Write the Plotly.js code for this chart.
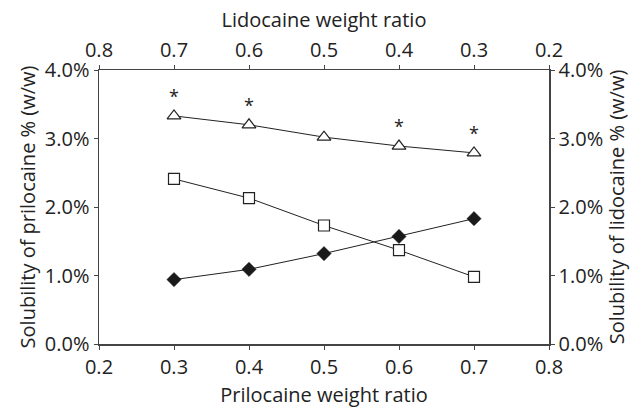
<!DOCTYPE html>
<html>
<head>
<meta charset="utf-8">
<script src="https://cdn.plot.ly/plotly-3.0.1.min.js"></script>
<style>html,body{margin:0;padding:0;background:#fff;}#chart{width:633px;height:409px;}</style>
</head>
<body>
<div id="chart"></div>
<script>
// Prilocaine weight ratio (bottom axis)
var prilocaineRatio = [0.3, 0.4, 0.5, 0.6, 0.7];
// Lidocaine weight ratio (top axis) = 1 - prilocaine ratio
var lidocaineRatio = [0.7, 0.6, 0.5, 0.4, 0.3];
// Solubility of prilocaine % (w/w) – filled diamonds
var prilocaineSolubility = [0.94, 1.09, 1.32, 1.57, 1.83];
// Solubility of lidocaine % (w/w) – open squares
var lidocaineSolubility = [2.41, 2.13, 1.73, 1.37, 0.98];
// Total solubility % (w/w) – open triangles
var totalSolubility = [3.33, 3.20, 3.02, 2.89, 2.79];
var significance = ['*', '*', '', '*', '*'];

var bottomTicks = [0.2, 0.3, 0.4, 0.5, 0.6, 0.7, 0.8];
var yTicks = [0, 1, 2, 3, 4];

var FONT = 'Open Sans, Noto Sans, DejaVu Sans, sans-serif';
var AX = '#444';
var FS = 20;

var traces = [
  {
    x: prilocaineRatio, y: totalSolubility, xaxis: 'x', yaxis: 'y',
    mode: 'lines+markers+text', text: significance, textposition: 'top center',
    textfont: {family: FONT, size: 18, color: '#222'},
    line: {color: '#222', width: 1},
    marker: {symbol: 'triangle-up', size: 12, color: '#fff', line: {color: '#222', width: 1.2}},
    cliponaxis: false, showlegend: false
  },
  {
    x: lidocaineRatio, y: lidocaineSolubility, xaxis: 'x2', yaxis: 'y2',
    mode: 'lines+markers',
    line: {color: '#222', width: 1},
    marker: {symbol: 'square', size: 11, color: '#fff', line: {color: '#222', width: 1.2}},
    showlegend: false
  },
  {
    x: prilocaineRatio, y: prilocaineSolubility, xaxis: 'x', yaxis: 'y',
    mode: 'lines+markers',
    line: {color: '#222', width: 1},
    marker: {symbol: 'diamond', size: 11, color: '#1a1a1a', line: {color: '#1a1a1a', width: 0.5}},
    showlegend: false
  }
];

var common = {
  showgrid: false, zeroline: false, showline: true, linecolor: AX, linewidth: 1.5,
  ticks: 'outside', ticklen: 4, tickwidth: 1, tickcolor: AX,
  tickfont: {family: FONT, size: FS, color: '#222'}
};

var layout = {
  width: 633, height: 409,
  margin: {l: 99, r: 84, t: 70, b: 65},
  paper_bgcolor: '#fff', plot_bgcolor: '#fff',
  font: {family: FONT, color: '#222'},
  xaxis: Object.assign({}, common, {
    range: [0.2, 0.8], tickvals: bottomTicks, ticktext: bottomTicks.map(function(v){return v.toFixed(1);}),
    title: {text: 'Prilocaine weight ratio', font: {family: FONT, size: FS, color: '#222'}, standoff: 9}
  }),
  xaxis2: Object.assign({}, common, {
    overlaying: 'x', side: 'top', anchor: 'y',
    range: [0.8, 0.2], tickvals: bottomTicks, ticktext: bottomTicks.map(function(v){return v.toFixed(1);}),
    title: {text: 'Lidocaine weight ratio', font: {family: FONT, size: FS, color: '#222'}, standoff: 2}
  }),
  yaxis: Object.assign({}, common, {
    range: [0, 4], tickvals: yTicks, ticktext: yTicks.map(function(v){return v.toFixed(1) + '%';}),
    title: {text: 'Solubility of prilocaine % (w/w)', font: {family: FONT, size: FS, color: '#222'}, standoff: 4}
  }),
  yaxis2: Object.assign({}, common, {
    overlaying: 'y', side: 'right', anchor: 'x',
    range: [0, 4], tickvals: yTicks, ticktext: yTicks.map(function(v){return v.toFixed(1) + '%';}),
    title: {text: 'Solubility of lidocaine % (w/w)', font: {family: FONT, size: FS, color: '#222'}, standoff: 4}
  })
};

Plotly.newPlot('chart', traces, layout, {staticPlot: true, displayModeBar: false});
</script>
</body>
</html>
